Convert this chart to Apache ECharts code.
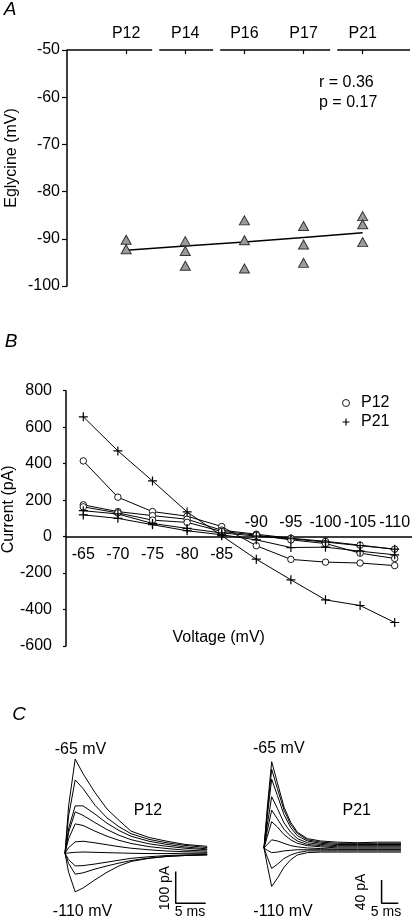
<!DOCTYPE html>
<html><head><meta charset="utf-8">
<script src="https://cdn.jsdelivr.net/npm/echarts@6/dist/echarts.min.js"></script>
<style>html,body{margin:0;padding:0;background:#fff}#c{width:412px;height:920px}</style>
</head><body><div id="c"></div>
<script>
// ---------- Panel A data ----------
const ages = ['P12', 'P14', 'P16', 'P17', 'P21'];
const eglyP12 = [-90.2, -92.2];
const eglyP14 = [-90.5, -92.6, -95.7];
const eglyP16 = [-86.1, -90.3, -96.3];
const eglyP17 = [-87.3, -91.2, -95.1];
const eglyP21 = [-85.2, -86.9, -90.7];
const eglyFit = [-92.4, -91.5, -90.7, -89.7, -88.7];
const statsText = ['r = 0.36', 'p = 0.17'];

// ---------- Panel B data ----------
const voltages = ['-65', '-70', '-75', '-80', '-85', '-90', '-95', '-100', '-105', '-110'];
const p12CellA = [415, 216, 137, 112, 55, -50, -125, -140, -145, -159];
const p12CellB = [174, 137, 115, 95, 35, 13, -9, -26, -47, -69];
const p12CellC = [163, 130, 90, 78, 28, 8, -18, -38, -91, -120];
const p21CellA = [657, 470, 305, 135, 5, -124, -237, -347, -378, -471];
const p21CellB = [142, 124, 72, 45, 20, 3, -12, -30, -50, -69];
const p21CellC = [119, 100, 65, 32, 10, -18, -60, -58, -80, -100];

// ---------- Panel C data (ms, pA) ----------
const tP12 = [0, 0.6, 1.7, 3, 5, 7, 9, 11, 14, 17, 20, 23.7];
const p12m65 = [0, 150, 298, 252, 192, 140, 104, 70, 50, 38, 28, 22];
const p12m70 = [0, 118, 232, 205, 152, 112, 84, 62, 44, 33, 25, 18];
const p12m75 = [0, 78, 150, 150, 124, 95, 72, 54, 38, 28, 20, 14];
const p12m80 = [0, 66, 131, 120, 97, 75, 57, 43, 30, 22, 16, 11];
const p12m85 = [0, 46, 93, 88, 70, 54, 41, 31, 21, 15, 10, 7];
const p12m90 = [0, 18, 36, 38, 33, 27, 21, 16, 11, 7, 5, 3];
const p12m95 = [0, 1, 3, 4, 3, 2, 1, 0, -1, -1, 0, 0];
const p12m100 = [0, -20, -40, -39, -34, -28, -22, -16, -11, -7, -5, -4];
const p12m105 = [0, -32, -66, -62, -50, -40, -31, -23, -15, -10, -7, -5];
const p12m110 = [0, -60, -122, -110, -84, -60, -40, -26, -16, -10, -7, -5];

const tP21 = [0, 1, 2.3, 4, 6, 8, 10, 13, 17, 22, 28, 34, 41];
const p21m65 = [0, 70, 148, 112, 70, 44, 27, 16, 12, 10, 9, 10, 10];
const p21m70 = [0, 62, 135, 102, 65, 40, 25, 14, 10, 8, 8, 8, 8];
const p21m75 = [0, 55, 118, 90, 57, 35, 21, 12, 8, 6, 6, 6, 6];
const p21m80 = [0, 40, 88, 68, 43, 27, 16, 9, 6, 4, 4, 4, 4];
const p21m85 = [0, 30, 65, 50, 32, 20, 12, 6, 4, 2, 2, 2, 2];
const p21m90 = [0, 20, 45, 36, 23, 14, 8, 4, 2, 0, 0, 0, 0];
const p21m95 = [0, 6, 14, 12, 8, 4, 2, 0, -1, -2, -2, -2, -2];
const p21m100 = [0, -4, -8, -7, -5, -4, -3, -3, -3, -3, -3, -3, -3];
const p21m105 = [0, -16, -35, -28, -18, -12, -8, -5, -5, -5, -5, -5, -5];
const p21m110 = [0, -30, -66, -52, -33, -20, -12, -8, -7, -7, -7, -7, -7];

const scaleP12 = {pA: 100, ms: 5};
const scaleP21 = {pA: 40, ms: 5};

// ---------- build ----------
const FONT = '"Liberation Sans", Arial, Helvetica, sans-serif';
const BLACK = '#000';
const chart = echarts.init(document.getElementById('c'), null, {renderer: 'canvas', width: 412, height: 920});

const ageSamples = [eglyP12, eglyP14, eglyP16, eglyP17, eglyP21];
const scatterData = [];
ageSamples.forEach((arr, i) => arr.forEach(v => scatterData.push([i, v])));
const fitData = eglyFit.map((v, i) => [i, v]);
const groupBars = [[-1, 0.44], [0.56, 1.47], [1.59, 3.45], [3.57, 4.8]];

const PLUS = 'path://M0,5L10,5M5,0L5,10';
const ivLine = (name, values, isCircle) => ({
  type: 'line', name, xAxisIndex: 1, yAxisIndex: 1,
  data: values, symbol: isCircle ? 'circle' : PLUS, symbolSize: isCircle ? 6.5 : 9, showSymbol: true,
  lineStyle: {color: BLACK, width: 1},
  itemStyle: isCircle
    ? {color: '#fff', borderColor: BLACK, borderWidth: 0.9}
    : {color: BLACK, borderColor: BLACK, borderWidth: 1.2},
  emphasis: {disabled: true}, animation: false, z: 3
});

const traceSeries = (name, t, v, xi, yi) => ({
  type: 'line', name, xAxisIndex: xi, yAxisIndex: yi,
  data: t.map((tt, i) => [tt, v[i]]), showSymbol: false, symbol: 'none',
  lineStyle: {color: BLACK, width: 1}, emphasis: {disabled: true}, animation: false, clip: false
});
const p12Traces = [p12m65, p12m70, p12m75, p12m80, p12m85, p12m90, p12m95, p12m100, p12m105, p12m110];
const p21Traces = [p21m65, p21m70, p21m75, p21m80, p21m85, p21m90, p21m95, p21m100, p21m105, p21m110];

const barSeries = (name, x0, y0, sc, xi, yi) => ({
  type: 'line', name, xAxisIndex: xi, yAxisIndex: yi,
  data: [[x0, y0], [x0, y0 - sc.pA], [x0 + sc.ms, y0 - sc.pA]],
  showSymbol: false, symbol: 'none', lineStyle: {color: BLACK, width: 1.5},
  emphasis: {disabled: true}, animation: false, clip: false
});

const txt = (text, x, y, size, opts = {}) => Object.assign({
  type: 'text', x, y, rotation: opts.rotation || 0,
  style: {
    text, fill: BLACK, font: (opts.italic ? 'italic ' : '') + size + 'px ' + FONT,
    align: opts.align || 'center', textAlign: opts.align || 'center',
    verticalAlign: 'middle', textVerticalAlign: 'middle'
  }
});

const axisLabelStyle = {color: BLACK, fontSize: 16, fontFamily: FONT};
const G = {containLabel: false, outerBoundsMode: 'none'};

const option = {
  backgroundColor: '#fff',
  animation: false,
  textStyle: {fontFamily: FONT, color: BLACK},
  grid: [
    Object.assign({left: 67, top: 50, width: 343, height: 236}, G),
    Object.assign({left: 66, top: 390.7, width: 346, height: 255.3}, G),
    Object.assign({left: 65, top: 755.3, width: 144, height: 151.7}, G),
    Object.assign({left: 264, top: 754.7, width: 140.3, height: 154.5}, G),
    Object.assign({left: 66, top: 536.7, width: 346, height: 1}, G)
  ],
  legend: {
    left: 335, top: 390, orient: 'vertical', itemWidth: 20, itemHeight: 7, itemGap: 3,
    selectedMode: false, textStyle: {fontSize: 16, color: BLACK, fontFamily: FONT},
    data: [
      {name: 'P12', icon: 'circle', itemStyle: {color: '#fff', borderColor: BLACK, borderWidth: 0.9}},
      {name: 'P21', icon: PLUS, itemStyle: {color: 'none', borderColor: BLACK, borderWidth: 1.2}}
    ]
  },
  xAxis: [
    {gridIndex: 0, type: 'value', position: 'top', min: -1, max: 4.8,
     axisLine: {show: false}, splitLine: {show: false},
     axisTick: {show: true, inside: true, length: 4, customValues: [0, 1, 2, 3, 4], lineStyle: {color: BLACK, width: 1.2}},
     axisLabel: Object.assign({customValues: [0, 1, 2, 3, 4], margin: 8, formatter: v => ages[Math.round(v)] || ''}, axisLabelStyle)},
    {gridIndex: 1, type: 'category', data: voltages, position: 'bottom', boundaryGap: true,
     axisLine: {onZero: true, onZeroAxisIndex: 1, lineStyle: {color: BLACK, width: 1.5}},
     axisTick: {show: false}, splitLine: {show: false}, axisLabel: {show: false}},
    {gridIndex: 2, type: 'value', min: 0, max: 24, show: false},
    {gridIndex: 3, type: 'value', min: 0, max: 42, show: false},
    {gridIndex: 4, type: 'category', data: voltages, position: 'bottom', boundaryGap: true,
     axisLine: {show: false, onZero: false}, axisTick: {show: false}, splitLine: {show: false},
     axisLabel: Object.assign({interval: 0, margin: 9, formatter: (v, i) => i < 5 ? v : ''}, axisLabelStyle)},
    {gridIndex: 4, type: 'category', data: voltages, position: 'top', boundaryGap: true,
     axisLine: {show: false, onZero: false}, axisTick: {show: false}, splitLine: {show: false},
     axisLabel: Object.assign({interval: 0, margin: 6, formatter: (v, i) => i >= 5 ? v : ''}, axisLabelStyle)}
  ],
  yAxis: [
    {gridIndex: 0, type: 'value', min: -100, max: -50, interval: 10,
     name: 'Eglycine (mV)', nameLocation: 'middle', nameGap: 47, nameRotate: 90, nameMoveOverlap: false,
     nameTextStyle: {fontSize: 16, color: BLACK, fontFamily: FONT, padding: [0, 0, 0, 20]},
     axisLine: {show: true, onZero: false, lineStyle: {color: BLACK, width: 1.5}},
     axisTick: {show: true, length: 5, lineStyle: {color: BLACK, width: 1.2}},
     splitLine: {show: false},
     axisLabel: Object.assign({margin: 7, showMinLabel: true, showMaxLabel: true}, axisLabelStyle)},
    {gridIndex: 1, type: 'value', min: -600, max: 800, interval: 200,
     name: 'Current (pA)', nameLocation: 'middle', nameGap: 49, nameRotate: 90, nameMoveOverlap: false,
     nameTextStyle: {fontSize: 16, color: BLACK, fontFamily: FONT, padding: [0, 0, 0, 18]},
     axisLine: {show: true, onZero: false, lineStyle: {color: BLACK, width: 1.5}},
     axisTick: {show: true, length: 3, lineStyle: {color: BLACK, width: 1.2}},
     splitLine: {show: false},
     axisLabel: Object.assign({margin: 14, showMinLabel: true, showMaxLabel: true}, axisLabelStyle)},
    {gridIndex: 2, type: 'value', min: -170, max: 310, show: false},
    {gridIndex: 3, type: 'value', min: -105, max: 160, show: false},
    {gridIndex: 4, type: 'value', min: 0, max: 1, show: false}
  ],
  series: [
    {type: 'lines', name: 'groups', coordinateSystem: 'cartesian2d', xAxisIndex: 0, yAxisIndex: 0,
     clip: false, polyline: false, silent: true,
     lineStyle: {color: BLACK, width: 1.5, opacity: 1},
     data: groupBars.map(([a, b]) => ({coords: [[a, -50], [b, -50]]}))},
    {type: 'line', name: 'fit', xAxisIndex: 0, yAxisIndex: 0, data: fitData,
     showSymbol: false, symbol: 'none', lineStyle: {color: BLACK, width: 1.5}, z: 2, emphasis: {disabled: true}},
    {type: 'scatter', name: 'Eglycine', xAxisIndex: 0, yAxisIndex: 0, data: scatterData,
     symbol: 'triangle', symbolSize: [10, 9], z: 3,
     itemStyle: {color: '#9a9a9a', borderColor: '#333', borderWidth: 1, opacity: 1}, emphasis: {disabled: true}},
    ivLine('P12', p12CellA, true),
    ivLine('P12', p12CellB, true),
    ivLine('P12', p12CellC, true),
    ivLine('P21', p21CellA, false),
    ivLine('P21', p21CellB, false),
    ivLine('P21', p21CellC, false),
    ...p12Traces.map((v, i) => traceSeries('P12 trace ' + voltages[i], tP12, v, 2, 2)),
    ...p21Traces.map((v, i) => traceSeries('P21 trace ' + voltages[i], tP21, v, 3, 3)),
    barSeries('P12 scale', 18.45, -58, scaleP12, 2, 2),
    barSeries('P21 scale', 35.2, -55, scaleP21, 3, 3)
  ],
  graphic: {elements: [
    txt('A', 10, 10, 19, {italic: true}),
    txt('B', 11, 342, 19, {italic: true}),
    txt('C', 19, 715, 19, {italic: true}),
    txt(statsText[0], 319, 83, 16, {align: 'left'}),
    txt(statsText[1], 319, 103, 16, {align: 'left'}),
    txt('Voltage (mV)', 218.7, 637.3, 16),
    txt('-65 mV', 80.5, 749.3, 16),
    txt('-110 mV', 82.5, 912, 16),
    txt('P12', 148, 810.7, 16),
    txt('-65 mV', 278.8, 749, 16),
    txt('-110 mV', 283, 912, 16),
    txt('P21', 356.7, 810.7, 16),
    txt(scaleP12.pA + ' pA', 165, 888, 14, {rotation: Math.PI / 2}),
    txt(scaleP12.ms + ' ms', 190, 912, 14),
    txt(scaleP21.pA + ' pA', 361, 892, 14, {rotation: Math.PI / 2}),
    txt(scaleP21.ms + ' ms', 386, 912, 14)
  ]}
};
chart.setOption(option);
</script>
</body></html>
